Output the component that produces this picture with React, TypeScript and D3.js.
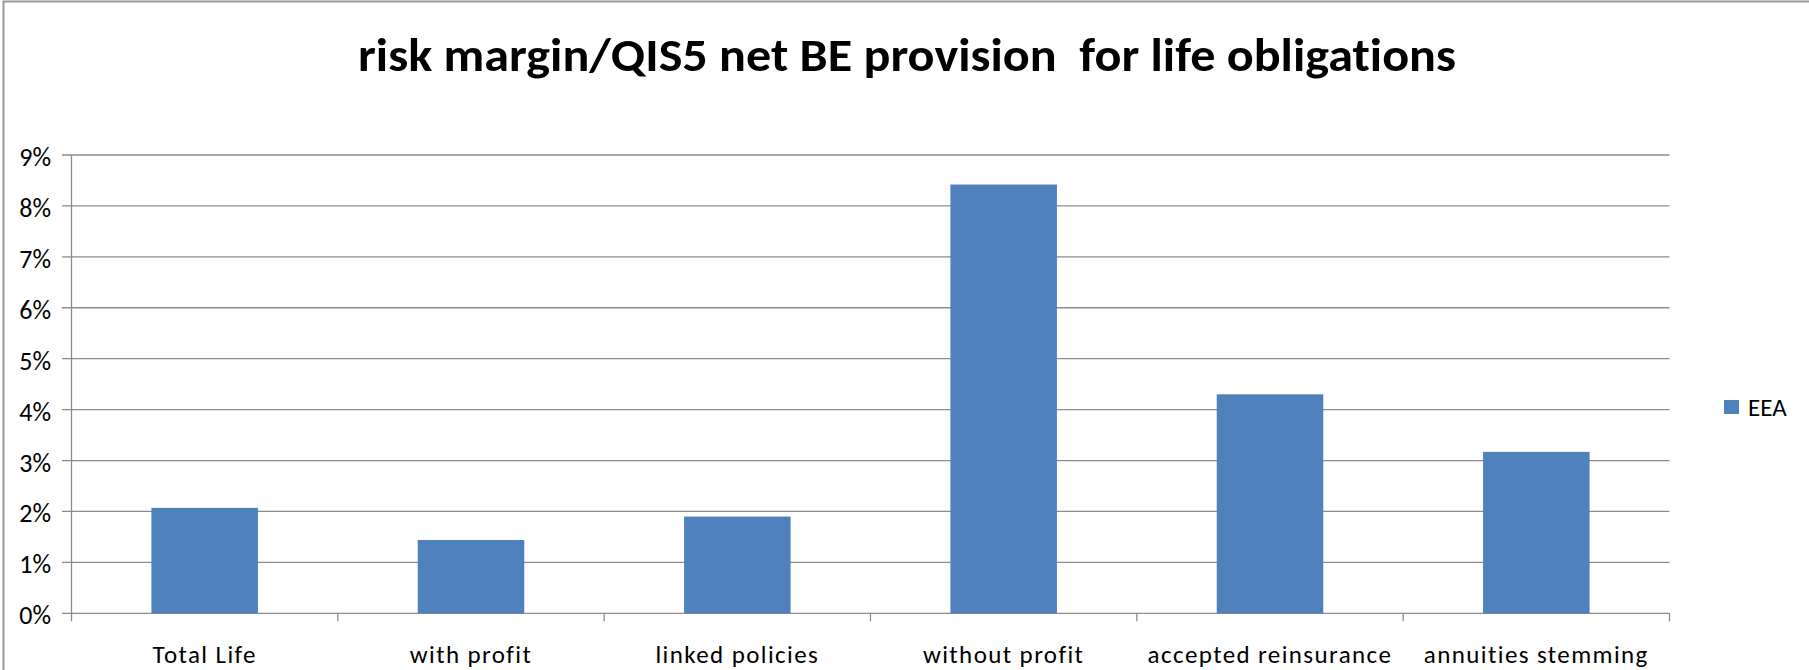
import React from "react";
import * as d3 from "d3";

const categories = [
  "Total Life",
  "with profit",
  "linked policies",
  "without profit",
  "accepted reinsurance",
  "annuities stemming",
];
const eeaValues = [0.0207, 0.0144, 0.019, 0.0842, 0.043, 0.0317];
const yTicks = [0, 0.01, 0.02, 0.03, 0.04, 0.05, 0.06, 0.07, 0.08, 0.09];
const seriesName = "EEA";
const title = "risk margin/QIS5 net BE provision  for life obligations";

const W = 1809;
const H = 670;
const plot = { left: 71.5, right: 1669.5, top: 155, bottom: 613.3 };
const FONT = "Calibri, Carlito, 'Liberation Sans', Arial, sans-serif";
const BAR = "#4F81BD";
const GRID = "#8c8c8c";

export default function App() {
  const x = d3
    .scaleBand<string>()
    .domain(categories)
    .range([plot.left, plot.right])
    .paddingInner(0.6)
    .paddingOuter(0.3);
  const xOuter = d3.scaleBand<string>().domain(categories).range([plot.left, plot.right]);
  const y = d3.scaleLinear().domain([0, 0.09]).range([plot.bottom, plot.top]);
  const fmt = d3.format(".0%");

  return (
    <div style={{ position: "absolute", left: 0, top: 0 }}>
      <svg
        width={W}
        height={H}
        style={{ display: "block", background: "#fff", fontVariantLigatures: "none" }}
      >
        <rect x={3.5} y={1.5} width={W + 10} height={H + 10} fill="#fff" stroke="#9a9a9a" strokeWidth={2} />
        <text
          x={907}
          y={71}
          textAnchor="middle"
          fontFamily={FONT}
          fontWeight="bold"
          fontSize={46}
          textLength={1098}
          lengthAdjust="spacingAndGlyphs"
          fill="#000"
          style={{ whiteSpace: "pre" }}
        >
          {title}
        </text>
        {yTicks.map((t) => (
          <g key={t}>
            <line x1={62} x2={plot.right} y1={y(t)} y2={y(t)} stroke={GRID} strokeWidth={1.3} />
            <text x={51} y={y(t) + 11} textAnchor="end" fontFamily={FONT} fontSize={26} fill="#000">
              {fmt(t)}
            </text>
          </g>
        ))}
        <line x1={plot.left} x2={plot.left} y1={plot.top} y2={plot.bottom + 8} stroke={GRID} strokeWidth={1.3} />
        {categories.map((c) => (
          <line
            key={"tk" + c}
            x1={(xOuter(c) as number) + xOuter.bandwidth()}
            x2={(xOuter(c) as number) + xOuter.bandwidth()}
            y1={plot.bottom}
            y2={plot.bottom + 8}
            stroke={GRID}
            strokeWidth={1.3}
          />
        ))}
        {categories.map((c, i) => (
          <rect
            key={"b" + c}
            x={x(c)}
            y={y(eeaValues[i])}
            width={x.bandwidth()}
            height={plot.bottom - y(eeaValues[i])}
            fill={BAR}
          />
        ))}
        {categories.map((c) => (
          <text
            key={"l" + c}
            x={(xOuter(c) as number) + xOuter.bandwidth() / 2}
            y={663}
            textAnchor="middle"
            fontFamily={FONT}
            fontSize={25}
            letterSpacing={1.4}
            fill="#000"
          >
            {c}
          </text>
        ))}
        <rect x={1724} y={400} width={15} height={14} fill={BAR} />
        <text x={1748} y={416} fontFamily={FONT} fontSize={25} fill="#000">
          {seriesName}
        </text>
      </svg>
    </div>
  );
}
